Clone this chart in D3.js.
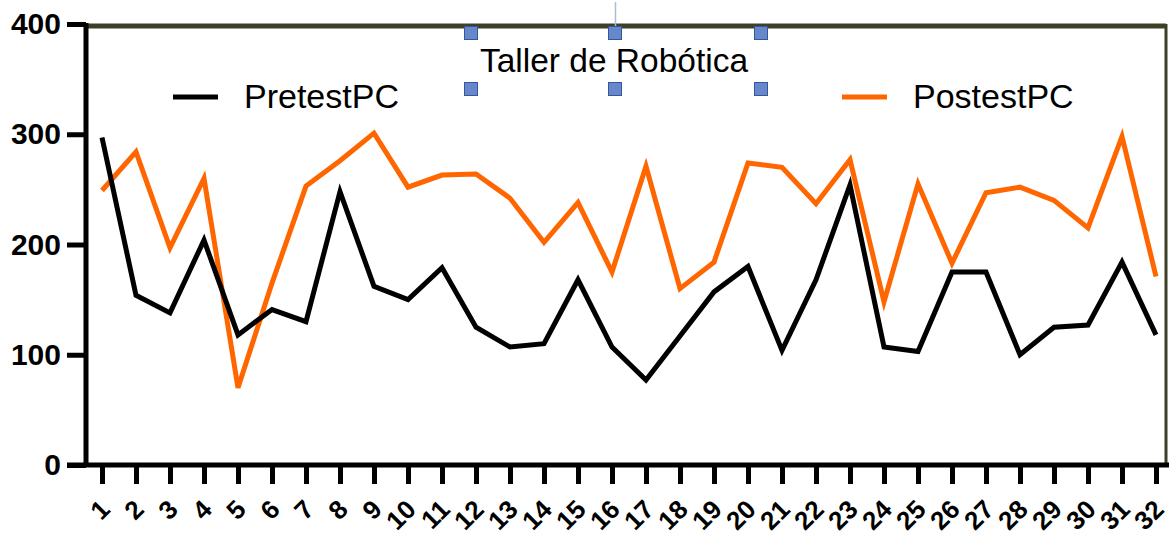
<!DOCTYPE html>
<meta charset="utf-8">
<style>
body { margin: 0; background: #fff; }
svg { display: block; font-family: "Liberation Sans", Arial, sans-serif; }
.axis path, .axis line { stroke: #000; stroke-width: 5px; }
.axis text { font-weight: bold; fill: #000; }
.series { fill: none; stroke-width: 5px; stroke-linejoin: miter; }
.handle { fill: #6687c9; stroke: #35579a; stroke-width: 1px; }
</style>
<svg width="1172" height="536"></svg>
<script src="https://d3js.org/d3.v7.min.js"></script>
<script>

// values
var sessions = d3.range(1, 33);
var pretest = [297, 154, 138, 204, 118, 141, 130, 248, 162, 150, 179, 125, 107, 110, 168, 107,
               77, 117, 157, 180, 104, 168, 254, 107, 103, 175, 175, 100, 125, 127, 184, 118];
var postest = [249, 284, 197, 260, 70, 165, 253, 276, 301, 252, 263, 264, 242, 202, 238, 175,
               271, 160, 184, 274, 270, 237, 277, 148, 255, 183, 247, 252, 240, 215, 298, 171];
var yTicks = [0, 100, 200, 300, 400];
var seriesNames = ["PretestPC", "PostestPC"];
var seriesColors = ["#000000", "#ff6600"];
var title = "Taller de Robótica";

var svg = d3.select("svg");

var plotLeft = 86, plotRight = 1166, plotTop = 24, plotBottom = 465;

var x = d3.scaleLinear().domain([1, 32]).range([102, 1156]);
var y = d3.scaleLinear().domain([0, 400]).range([plotBottom, plotTop]);

// frame: top and right edges
svg.append("line")
    .attr("x1", plotLeft).attr("x2", plotRight)
    .attr("y1", plotTop + 2).attr("y2", plotTop + 2)
    .attr("stroke", "#3c4026").attr("stroke-width", 5);
svg.append("line")
    .attr("x1", plotRight).attr("x2", plotRight)
    .attr("y1", plotTop).attr("y2", plotBottom)
    .attr("stroke", "#3c4026").attr("stroke-width", 3);

// x axis line
svg.append("line")
    .attr("x1", 67).attr("x2", 1169)
    .attr("y1", plotBottom).attr("y2", plotBottom)
    .attr("stroke", "#000").attr("stroke-width", 5);

var yAxis = svg.append("g")
    .attr("class", "axis")
    .attr("transform", "translate(" + plotLeft + ",0)")
    .call(d3.axisLeft(y).tickValues(yTicks).tickSize(19).tickSizeOuter(0).tickPadding(6));
yAxis.selectAll("text").style("font-size", "30px");
yAxis.select(".domain").attr("d", "M0," + (plotBottom + 2) + "V" + (plotTop - 1));

var xAxis = svg.append("g")
    .attr("class", "axis")
    .attr("transform", "translate(0," + plotBottom + ")")
    .call(d3.axisBottom(x).tickValues(sessions).tickSize(19).tickSizeOuter(0));
xAxis.select(".domain").remove();
xAxis.selectAll("text")
    .style("font-size", "26px")
    .attr("text-anchor", "end")
    .attr("dy", null)
    .attr("y", null)
    .attr("transform", "translate(9,46) rotate(-45)");

var line = d3.line()
    .x(function(d, i) { return x(sessions[i]); })
    .y(function(d) { return y(d); });

svg.append("path").datum(postest)
    .attr("class", "series")
    .attr("stroke", seriesColors[1])
    .attr("d", line);

svg.append("path").datum(pretest)
    .attr("class", "series")
    .attr("stroke", seriesColors[0])
    .attr("d", line);

// legend
var legendX = [173, 842];
seriesNames.forEach(function(name, i) {
  var g = svg.append("g").attr("transform", "translate(" + legendX[i] + ",97)");
  g.append("line").attr("x1", 0).attr("x2", 45)
      .attr("stroke", seriesColors[i]).attr("stroke-width", 5);
  g.append("text").attr("x", 71).attr("y", 11)
      .style("font-size", "34px").attr("fill", "#000")
      .text(name);
});

// title with selection handles
svg.append("line")
    .attr("x1", 615.5).attr("x2", 615.5).attr("y1", 2).attr("y2", 28)
    .attr("stroke", "#a9bdd9").attr("stroke-width", 1.5);

svg.append("text")
    .attr("x", 614).attr("y", 72)
    .attr("text-anchor", "middle")
    .style("font-size", "33.5px").attr("fill", "#000")
    .text(title);

[471, 615, 761].forEach(function(hx) {
  [33, 89].forEach(function(hy) {
    svg.append("rect").attr("class", "handle")
        .attr("x", hx - 6.5).attr("y", hy - 6.5)
        .attr("width", 13).attr("height", 13);
  });
});

</script>
